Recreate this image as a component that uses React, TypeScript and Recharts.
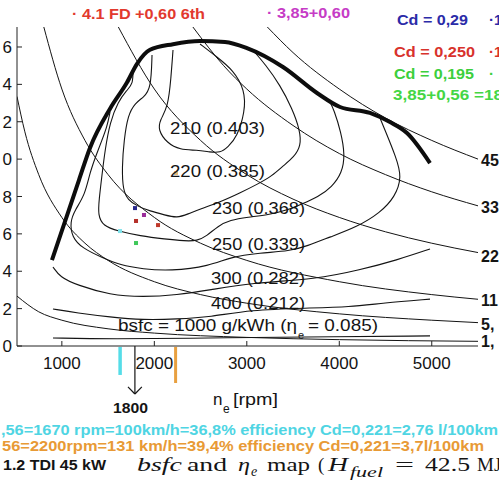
import React from "react";
import { ComposedChart, Line, Scatter, XAxis, YAxis, ReferenceLine } from "recharts";

// engine speed [rpm] / bmep [bar] pairs
const rpmTicks = [1000, 2000, 3000, 4000, 5000];
const bmepTicks = [0, 2, 4, 6, 8, 10, 12, 14, 16];
const bmepMinorTicks = [0, 1, 2, 3, 4, 5, 6, 7, 8, 9, 10, 11, 12, 13, 14, 15, 16, 17];

const fullLoad = [
  [893, 4.6], [1185, 8.88], [1304, 10.6], [1521, 12.7], [1704, 14.1], [1813, 15.1],
  [1953, 15.85], [2202, 16.15], [2494, 16.32], [2764, 16.27], [3002, 15.94], [3391, 14.93],
  [3759, 13.54], [4008, 12.79], [4332, 12.47], [4548, 11.98], [4732, 11.4], [4981, 9.79],
];

const bsfc210 = [
  [2202, 15.84], [2180, 14.34], [2148, 12.79], [2061, 12.09], [2040, 11.56], [2137, 10.86],
  [2278, 10.49], [2461, 10.49], [2602, 10.38], [2710, 10.33], [2797, 10.65], [2894, 11.18],
  [2980, 12.52], [2980, 13.7], [2851, 14.77], [2678, 15.46], [2494, 16.16],
];

const bsfc220 = [
  [1975, 15.57], [1964, 13.8], [1888, 13.32], [1791, 13.0], [1715, 12.36], [1672, 11.02],
  [1650, 9.52], [1661, 8.35], [1715, 7.81], [1813, 7.49], [1953, 7.22], [2115, 7.01],
  [2245, 6.85], [2364, 7.06], [2494, 7.33], [2710, 7.7], [2926, 8.19], [3121, 8.67],
  [3272, 9.1], [3391, 9.63], [3510, 10.11], [3586, 10.7], [3575, 11.56], [3489, 12.73],
  [3359, 13.96], [3207, 15.03], [3056, 15.89],
];

const bsfc230 = [
  [1769, 14.77], [1769, 14.02], [1704, 13.7], [1607, 13.06], [1521, 11.98], [1467, 10.49],
  [1434, 9.15], [1402, 7.81], [1391, 7.01], [1445, 6.42], [1607, 6.15], [1845, 5.89],
  [2115, 5.72], [2332, 5.62], [2461, 5.62], [2569, 5.89], [2688, 6.42], [2818, 6.74],
  [3013, 6.9], [3229, 7.01], [3445, 7.28], [3597, 7.6], [3769, 7.97], [3921, 8.51],
  [4029, 9.26], [4062, 10.22], [4018, 11.45], [3943, 12.63], [3899, 13.06],
];

const bsfc250 = [
  [1521, 12.52], [1488, 11.72], [1434, 11.02], [1380, 10.33], [1304, 9.31], [1250, 8.08],
  [1142, 7.28], [1088, 6.63], [1110, 5.83], [1218, 5.24], [1445, 4.71], [1629, 4.33],
  [1877, 4.12], [2169, 4.01], [2602, 4.28], [2818, 4.76], [3143, 4.98], [3467, 5.08],
  [3651, 5.35], [3899, 5.83], [4191, 6.37], [4440, 7.12], [4602, 7.97], [4678, 9.04],
  [4613, 10.11], [4494, 11.56], [4440, 12.2],
];

const bsfc300 = [
  [904, 4.23], [980, 3.69], [1164, 3.26], [1521, 2.73], [1877, 2.62], [2245, 2.73],
  [2602, 3.0], [3034, 3.37], [3759, 3.58], [4224, 4.07], [4624, 4.6], [4981, 5.19],
];

const bsfc400 = [
  [904, 1.98], [1164, 1.77], [1521, 1.55], [1877, 1.39], [2245, 1.44], [2602, 1.55],
  [3034, 1.93], [3651, 2.03], [4116, 2.09], [4473, 2.3], [4981, 2.51],
];

const bsfc1000 = [[904, 0.43], [1521, 0.37], [2602, 0.43], [3575, 0.48], [4981, 0.54]];

// constant power lines, right-hand labels
const power44 = [[3222, 17.07], [3500, 15.7], [4000, 13.75], [4500, 12.2], [5000, 11.0], [5500, 10.0]];
const power33 = [[2417, 17.07], [2750, 15.0], [3000, 13.75], [3500, 11.8], [4000, 10.3], [4500, 9.17], [5000, 8.25], [5500, 7.5]];
const power22 = [[1611, 17.07], [2000, 13.75], [2500, 11.0], [3000, 9.17], [3500, 7.86], [4000, 6.88], [4500, 6.11], [5000, 5.5], [5500, 5.0]];
const power11 = [[805, 17.07], [1000, 13.75], [1250, 11.0], [1500, 9.17], [2000, 6.88], [2500, 5.5], [3000, 4.58], [4000, 3.44], [5000, 2.75], [5500, 2.5]];
const power5 = [[515, 13.35], [600, 11.46], [750, 9.17], [1000, 6.88], [1250, 5.5], [1500, 4.58], [2000, 3.44], [2500, 2.75], [3000, 2.29], [4000, 1.72], [5000, 1.38], [5500, 1.25]];
const power1 = [[515, 2.67], [750, 1.83], [1000, 1.38], [1500, 0.92], [2000, 0.69], [3000, 0.46], [4000, 0.34], [5500, 0.25]];

const contourLabels = ["210 (0.403)", "220 (0.385)", "230 (0.368)", "250 (0.339)", "300 (0.282)", "400 (0.212)"];
const powerLabels = ["45", "33", "22", "11", "5,", "1,"];

// operating points
const opRpm = [1791, 1888, 1802, 2040, 1629, 1802, 2234];
const opBmep = [7.38, 7.01, 6.69, 6.47, 6.15, 5.51, 9.26];
const opColors = ["#27278c", "#9a2c9a", "#b5302a", "#c0392b", "#7fe2ea", "#3fc85a", "#e6b878"];

const cyanRpm = 1630;
const orangeRpm = 2230;
const arrowRpm = 1790;

const SANS = "'Liberation Sans', Arial, Helvetica, sans-serif";
const SERIF = "'Liberation Serif', 'Times New Roman', serif";
const INK = "#141414";

const toPts = (arr: number[][]) => arr.map(([x, y]) => ({ x, y }));

const thinLines = [bsfc210, bsfc220, bsfc230, bsfc250, bsfc300, bsfc400, bsfc1000];
const powerLines = [power44, power33, power22, power11, power5, power1];

const opData = opRpm.map((x, i) => ({ x, y: opBmep[i], color: opColors[i] }));

function Square(props: any) {
  const { cx, cy, payload } = props;
  if (cx == null || cy == null) return null;
  return <rect x={cx - 2} y={cy - 2} width={4} height={4} fill={payload.color} />;
}

// left labels: leading digit sits past the image edge, as in the cropped original
function LeftTick(props: any) {
  const { x, y, payload } = props;
  const s = String(payload.value);
  return (
    <text x={x} y={y} dy="0.36em" textAnchor="end" fill={INK} fontSize={17} fontFamily={SANS}>
      {s.length > 1 ? (
        <>
          <tspan>{s.slice(0, -1)}</tspan>
          <tspan dx={6}>{s.slice(-1)}</tspan>
        </>
      ) : (
        s
      )}
    </text>
  );
}

function Overlay() {
  const labelPos = [
    [170, 134, 95], [170, 177, 95], [212, 214, 93], [212, 250, 93], [211, 284, 94], [211, 309, 94],
  ];
  const powerY = [166, 213, 262, 306, 330, 347];
  return (
    <svg width={499} height={499} style={{ position: "absolute", left: 0, top: 0, pointerEvents: "none" }}>
      <g fontFamily={SANS} fontWeight="bold" fontSize={15}>
        <text x={72} y={19} fill="#e2392e" textLength={133} lengthAdjust="spacingAndGlyphs">· 4.1 FD +0,60 6th</text>
        <text x={267} y={18} fill="#c63cc6" textLength={83} lengthAdjust="spacingAndGlyphs">· 3,85+0,60</text>
        <text x={397} y={25} fill="#2b2ba8" textLength={71} lengthAdjust="spacingAndGlyphs">Cd = 0,29</text>
        <text x={489} y={25} fill="#2b2ba8">·1</text>
        <text x={394} y={57} fill="#d8322c" textLength={81} lengthAdjust="spacingAndGlyphs">Cd = 0,250</text>
        <text x={489} y={57} fill="#d8322c">·1</text>
        <text x={394} y={79} fill="#3ccf3c" textLength={80} lengthAdjust="spacingAndGlyphs">Cd = 0,195</text>
        <text x={489} y={79} fill="#3ccf3c">·</text>
        <text x={393} y={100} fill="#44d644" textLength={110} lengthAdjust="spacingAndGlyphs">3,85+0,56 =18</text>
      </g>
      <g fontFamily={SANS} fontWeight="bold" fontSize={16} fill={INK}>
        {powerLabels.map((t, i) => (
          <text key={t} x={481} y={powerY[i]}>{t}</text>
        ))}
      </g>
      <g fontFamily={SANS} fontSize={17} fill={INK}>
        {contourLabels.map((t, i) => (
          <text key={t} x={labelPos[i][0]} y={labelPos[i][1]} textLength={labelPos[i][2]} lengthAdjust="spacingAndGlyphs">{t}</text>
        ))}
        <text x={118} y={331} textLength={179} lengthAdjust="spacingAndGlyphs">bsfc = 1000 g/kWh (η</text>
        <text x={298} y={339} fontSize={11}>e</text>
        <text x={308} y={331} textLength={70} lengthAdjust="spacingAndGlyphs">= 0.085)</text>
        <text x={213} y={405}>n</text>
        <text x={223} y={413} fontSize={12}>e</text>
        <text x={233} y={405} textLength={45} lengthAdjust="spacingAndGlyphs">[rpm]</text>
      </g>
      <g fontFamily={SANS} fontWeight="bold" fontSize={15}>
        <text x={113} y={413} fill={INK} textLength={35} lengthAdjust="spacingAndGlyphs">1800</text>
        <text x={1} y={435} fill="#4fd5e3" textLength={497} lengthAdjust="spacingAndGlyphs">,56=1670 rpm=100km/h=36,8% efficiency Cd=0,221=2,76 l/100km</text>
        <text x={2} y={451} fill="#e89a35" textLength={482} lengthAdjust="spacingAndGlyphs">56=2200rpm=131 km/h=39,4% efficiency Cd=0,221=3,7l/100km</text>
        <text x={3} y={470} fill={INK} fontSize={14} textLength={103} lengthAdjust="spacingAndGlyphs">1.2 TDI 45 kW</text>
      </g>
      <g fontFamily={SERIF} fontSize={19} fill={INK}>
        <text x={137} y={471} fontStyle="italic" textLength={45} lengthAdjust="spacingAndGlyphs">bsfc</text>
        <text x={187} y={471} textLength={40} lengthAdjust="spacingAndGlyphs">and</text>
        <text x={238} y={471} fontStyle="italic" textLength={12} lengthAdjust="spacingAndGlyphs">η</text>
        <text x={251} y={476} fontStyle="italic" fontSize={14}>e</text>
        <text x={267} y={471} textLength={43} lengthAdjust="spacingAndGlyphs">map</text>
        <text x={318} y={471}>(</text>
        <text x={328} y={471} fontStyle="italic" textLength={20} lengthAdjust="spacingAndGlyphs">H</text>
        <text x={350} y={477} fontStyle="italic" fontSize={14} textLength={33} lengthAdjust="spacingAndGlyphs">fuel</text>
        <text x={395} y={471} textLength={19} lengthAdjust="spacingAndGlyphs">=</text>
        <text x={425} y={471} textLength={45} lengthAdjust="spacingAndGlyphs">42.5</text>
        <text x={477} y={471}>MJ/kg)</text>
      </g>
    </svg>
  );
}

export default function App() {
  const tickFont = { fill: INK, fontSize: 17, fontFamily: SANS };
  return (
    <div style={{ position: "absolute", left: 0, top: 0, width: 499, height: 499, overflow: "hidden", background: "#fff" }}>
      <ComposedChart width={499} height={499} margin={{ top: 27, right: 21, bottom: 123, left: 0 }}>
        <XAxis
          xAxisId="b"
          dataKey="x"
          type="number"
          domain={[515, 5500]}
          allowDataOverflow
          ticks={rpmTicks}
          height={30}
          tickSize={-5}
          tickMargin={16}
          tick={tickFont}
          stroke="#222"
        />
        <XAxis
          xAxisId="t"
          dataKey="x"
          type="number"
          orientation="top"
          mirror
          domain={[515, 5500]}
          allowDataOverflow
          ticks={rpmTicks}
          height={0}
          tickSize={5}
          tick={false}
          stroke="#222"
        />
        <YAxis
          yAxisId="l"
          dataKey="y"
          type="number"
          domain={[0, 17.07]}
          allowDataOverflow
          ticks={bmepTicks}
          width={17}
          tickSize={-5}
          tickMargin={10}
          tick={<LeftTick />}
          stroke="#222"
        />
        <YAxis
          yAxisId="r"
          type="number"
          orientation="right"
          mirror
          domain={[0, 17.07]}
          allowDataOverflow
          ticks={bmepMinorTicks}
          width={0}
          tickSize={4}
          tick={false}
          stroke="#222"
        />
        {powerLines.map((d, i) => (
          <Line
            key={"p" + i}
            xAxisId="b"
            yAxisId="l"
            data={toPts(d)}
            dataKey="y"
            type="monotone"
            stroke={INK}
            strokeWidth={1}
            dot={false}
            activeDot={false}
            isAnimationActive={false}
          />
        ))}
        {thinLines.map((d, i) => (
          <Line
            key={"c" + i}
            xAxisId="b"
            yAxisId="l"
            data={toPts(d)}
            dataKey="y"
            type="basis"
            stroke={INK}
            strokeWidth={1.1}
            dot={false}
            activeDot={false}
            isAnimationActive={false}
          />
        ))}
        <Line
          xAxisId="b"
          yAxisId="l"
          data={toPts(fullLoad)}
          dataKey="y"
          type="monotone"
          stroke="#0d0d0d"
          strokeWidth={4}
          dot={false}
          activeDot={false}
          isAnimationActive={false}
        />
        <Scatter xAxisId="b" yAxisId="l" data={opData} dataKey="y" shape={<Square />} isAnimationActive={false} />
        <ReferenceLine xAxisId="b" yAxisId="l" ifOverflow="visible" segment={[{ x: cyanRpm, y: -0.05 }, { x: cyanRpm, y: -1.55 }]} stroke="#55dde8" strokeWidth={3.5} />
        <ReferenceLine xAxisId="b" yAxisId="l" ifOverflow="visible" segment={[{ x: orangeRpm, y: -0.05 }, { x: orangeRpm, y: -1.98 }]} stroke="#e8a040" strokeWidth={3} />
        <ReferenceLine xAxisId="b" yAxisId="l" ifOverflow="visible" segment={[{ x: arrowRpm, y: 0 }, { x: arrowRpm, y: -2.57 }]} stroke={INK} strokeWidth={1.2} />
        <ReferenceLine xAxisId="b" yAxisId="l" ifOverflow="visible" segment={[{ x: arrowRpm - 75, y: -2.19 }, { x: arrowRpm, y: -2.57 }]} stroke={INK} strokeWidth={1.2} />
        <ReferenceLine xAxisId="b" yAxisId="l" ifOverflow="visible" segment={[{ x: arrowRpm + 75, y: -2.19 }, { x: arrowRpm, y: -2.57 }]} stroke={INK} strokeWidth={1.2} />
      </ComposedChart>
      <Overlay />
    </div>
  );
}
